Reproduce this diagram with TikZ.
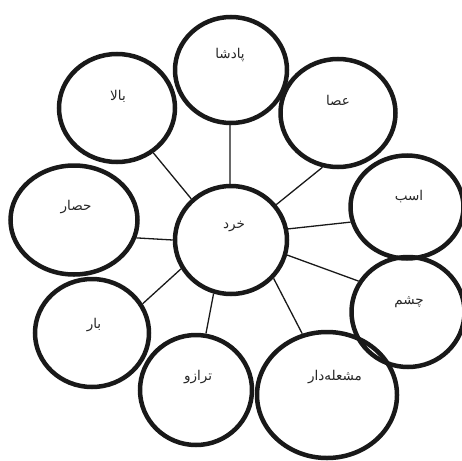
\documentclass[tikz,border=0pt]{standalone}
\usepackage{fontspec}
\usetikzlibrary{shapes.geometric}
\TeXXeTstate=1
\newfontfamily\arabicfont[Script=Arabic]{DejaVu Sans}
\newcommand{\fatext}[1]{{\arabicfont\fontsize{13.5}{16}\selectfont\beginR #1\endR}}
\begin{document}
\begin{tikzpicture}[x=1pt,y=-1pt,
  ring/.style={ellipse,draw=black!90,line width=4.5pt,inner sep=0pt},
  word/.style={inner sep=0pt,text=black!85},
  link/.style={draw=black!90,line width=1.3pt}]
\useasboundingbox (0,0) rectangle (462,460);
\clip (0,0) rectangle (462,460);
\fill[white] (0,0) rectangle (462,460);
% circles
\node[ring,minimum width=112pt,minimum height=108pt] (k) at (231,240) {};
\node[ring,minimum width=112pt,minimum height=106pt] (p) at (231,70) {};
\node[ring,minimum width=116pt,minimum height=108pt] (b) at (117,108) {};
\node[ring,minimum width=115pt,minimum height=108pt] (a) at (338,113) {};
\node[ring,minimum width=127pt,minimum height=109pt] (h) at (74,220) {};
\node[ring,minimum width=113pt,minimum height=103pt] (s) at (407,207) {};
\node[ring,minimum width=113pt,minimum height=110pt] (c) at (408,312) {};
\node[ring,minimum width=140pt,minimum height=126pt] (m) at (327,395) {};
\node[ring,minimum width=112pt,minimum height=110pt] (t) at (196,390) {};
\node[ring,minimum width=114pt,minimum height=108pt] (r) at (92,333) {};
% words
\node[word] (tk) at (234,227) {\fatext{خرد}};
\node[word] (tp) at (230,55) {\fatext{پادشا}};
\node[word] (tb) at (118,96) {\fatext{بالا}};
\node[word] (ta) at (338,100) {\fatext{عصا}};
\node[word] (th) at (76,207) {\fatext{حصار}};
\node[word] (ts) at (409,197) {\fatext{اسب}};
\node[word] (tc) at (409,302) {\fatext{چشم}};
\node[word] (tm) at (335,377) {\fatext{مشعله‌دار}};
\node[word] (tt) at (198,377) {\fatext{ترازو}};
\node[word] (tr) at (94,325) {\fatext{بار}};
% connectors
\draw[link] (k.91) -- (p.269);
\draw[link] (k.134) -- (b.309);
\draw[link] (k.38) -- (a.254);
\draw[link] (k.180) -- (h.344);
\draw[link] (k.11) -- (s.195);
\draw[link] (k.345) -- (c.148);
\draw[link] (k.318) -- (m.112);
\draw[link] (k.252) -- (t.80);
\draw[link] (k.210) -- (r.30);
\end{tikzpicture}
\end{document}
